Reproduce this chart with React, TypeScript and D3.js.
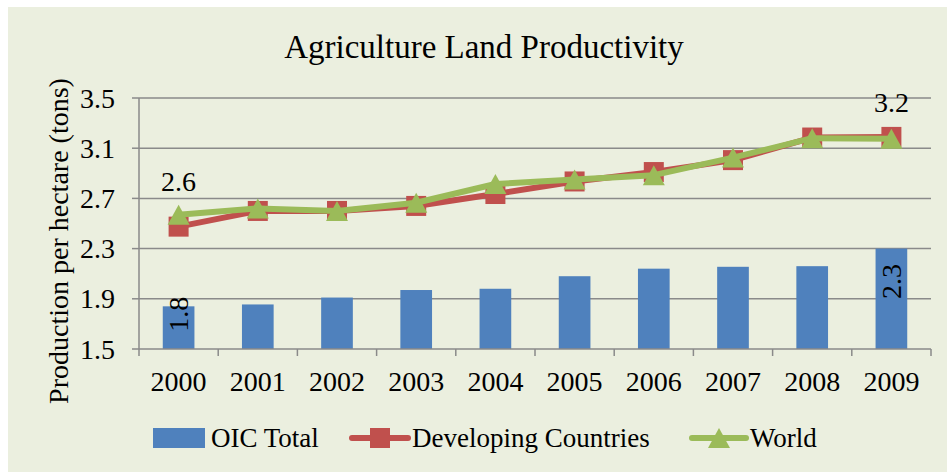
import React from "react";
import * as d3 from "d3";

const years = ["2000", "2001", "2002", "2003", "2004", "2005", "2006", "2007", "2008", "2009"];
const oicTotal = [1.84, 1.855, 1.91, 1.97, 1.98, 2.08, 2.14, 2.155, 2.16, 2.3];
const developing = [2.475, 2.6, 2.6, 2.64, 2.735, 2.835, 2.91, 3.005, 3.185, 3.19];
const world = [2.57, 2.62, 2.6, 2.665, 2.815, 2.85, 2.885, 3.025, 3.18, 3.175];
const yTicks = [1.5, 1.9, 2.3, 2.7, 3.1, 3.5];
const title = "Agriculture Land Productivity";
const yTitle = "Production per hectare (tons)";
const legendNames = ["OIC Total", "Developing Countries", "World"];

const W = 939;
const H = 465;
const OX = 8;
const OY = 7;
const FONT = "'Liberation Serif', 'DejaVu Serif', serif";
const BLUE = "#4f81bd";
const RED = "#c0504d";
const GREEN = "#9bbb59";
const GRID = "#8a8a8a";
const BG = "#ebefdf";

export default function App() {
  const x = d3.scaleBand<string>().domain(years).range([139 - OX, 931 - OX]).paddingInner(0).paddingOuter(0);
  const y = d3.scaleLinear().domain([1.5, 3.5]).range([349 - OY, 98 - OY]);
  const bw = x.bandwidth() * 0.4;
  const cx = (yr: string) => (x(yr) as number) + x.bandwidth() / 2;

  const lineGen = d3
    .line<number>()
    .x((_, i) => cx(years[i]))
    .y((d) => y(d));

  const tri = (px: number, py: number, s: number) =>
    `M${px},${py - s / 2}L${px + s / 2 + 1},${py + s / 2}L${px - s / 2 - 1},${py + s / 2}Z`;

  const x0 = x.range()[0];
  const x1 = x.range()[1];

  return (
    <svg
      width={W}
      height={H}
      style={{ position: "absolute", left: OX, top: OY, fontFamily: FONT }}
    >
      <rect x={0} y={0} width={W} height={H} fill={BG} />
      <text x={484 - OX} y={58 - OY} textAnchor="middle" fontSize={33} fill="#000">
        {title}
      </text>
      <text
        transform={`translate(${58 - OX},${241 - OY}) rotate(-90)`}
        textAnchor="middle"
        dominantBaseline="central"
        fontSize={28}
        fill="#000"
      >
        {yTitle}
      </text>
      {yTicks.map((t) => (
        <g key={t}>
          {t !== 1.5 && (
            <line x1={x0} x2={x1} y1={y(t)} y2={y(t)} stroke={GRID} strokeWidth={1.5} />
          )}
          <line x1={x0 - 7} x2={x0} y1={y(t)} y2={y(t)} stroke={GRID} strokeWidth={1.5} />
          <text
            x={x0 - 24}
            y={y(t)}
            textAnchor="end"
            dominantBaseline="central"
            fontSize={28}
            fill="#000"
          >
            {t.toFixed(1)}
          </text>
        </g>
      ))}
      {years.map((yr, i) => (
        <rect
          key={yr}
          x={cx(yr) - bw / 2}
          y={y(oicTotal[i])}
          width={bw}
          height={y(1.5) - y(oicTotal[i])}
          fill={BLUE}
        />
      ))}
      <line x1={x0} x2={x0} y1={y(3.5)} y2={y(1.5)} stroke={GRID} strokeWidth={1.5} />
      <line x1={x0} x2={x1} y1={y(1.5)} y2={y(1.5)} stroke={GRID} strokeWidth={1.5} />
      {[...years.map((yr) => x(yr) as number), x1].map((px, i) => (
        <line key={i} x1={px} x2={px} y1={y(1.5)} y2={y(1.5) + 7} stroke={GRID} strokeWidth={1.5} />
      ))}
      {years.map((yr) => (
        <text
          key={yr}
          x={cx(yr)}
          y={381 - OY}
          textAnchor="middle"
          dominantBaseline="central"
          fontSize={28}
          fill="#000"
        >
          {yr}
        </text>
      ))}
      <path d={lineGen(developing) || ""} fill="none" stroke={RED} strokeWidth={6} strokeLinejoin="round" />
      {developing.map((v, i) => (
        <rect key={i} x={cx(years[i]) - 10} y={y(v) - 10} width={20} height={20} fill={RED} />
      ))}
      <path d={lineGen(world) || ""} fill="none" stroke={GREEN} strokeWidth={6} strokeLinejoin="round" />
      {world.map((v, i) => (
        <path key={i} d={tri(cx(years[i]), y(v), 20)} fill={GREEN} />
      ))}
      <text
        transform={`translate(${cx(years[0])},${y(oicTotal[0]) + 8}) rotate(-90)`}
        textAnchor="middle"
        dominantBaseline="central"
        fontSize={28}
        fill="#000"
      >
        {oicTotal[0].toFixed(1)}
      </text>
      <text
        transform={`translate(${cx(years[9])},${y(oicTotal[9]) + 33}) rotate(-90)`}
        textAnchor="middle"
        dominantBaseline="central"
        fontSize={28}
        fill="#000"
      >
        {oicTotal[9].toFixed(1)}
      </text>
      <text x={cx(years[0])} y={y(world[0]) - 33} textAnchor="middle" dominantBaseline="central" fontSize={28} fill="#000">
        {world[0].toFixed(1)}
      </text>
      <text x={cx(years[9])} y={y(developing[9]) - 34} textAnchor="middle" dominantBaseline="central" fontSize={28} fill="#000">
        {developing[9].toFixed(1)}
      </text>
      <g>
        <rect x={153 - OX} y={428 - OY} width={52} height={20} fill={BLUE} />
        <text x={211 - OX} y={438 - OY} dominantBaseline="central" fontSize={27} fill="#000">
          {legendNames[0]}
        </text>
        <line x1={352 - OX} x2={408 - OX} y1={438 - OY} y2={438 - OY} stroke={RED} strokeWidth={6} strokeLinecap="round" />
        <rect x={380 - OX - 10} y={438 - OY - 10} width={20} height={20} fill={RED} />
        <text x={412 - OX} y={438 - OY} dominantBaseline="central" fontSize={27} fill="#000">
          {legendNames[1]}
        </text>
        <line x1={692 - OX} x2={746 - OX} y1={438 - OY} y2={438 - OY} stroke={GREEN} strokeWidth={6} strokeLinecap="round" />
        <path d={tri(719 - OX, 438 - OY, 20)} fill={GREEN} />
        <text x={750 - OX} y={438 - OY} dominantBaseline="central" fontSize={27} fill="#000">
          {legendNames[2]}
        </text>
      </g>
    </svg>
  );
}
